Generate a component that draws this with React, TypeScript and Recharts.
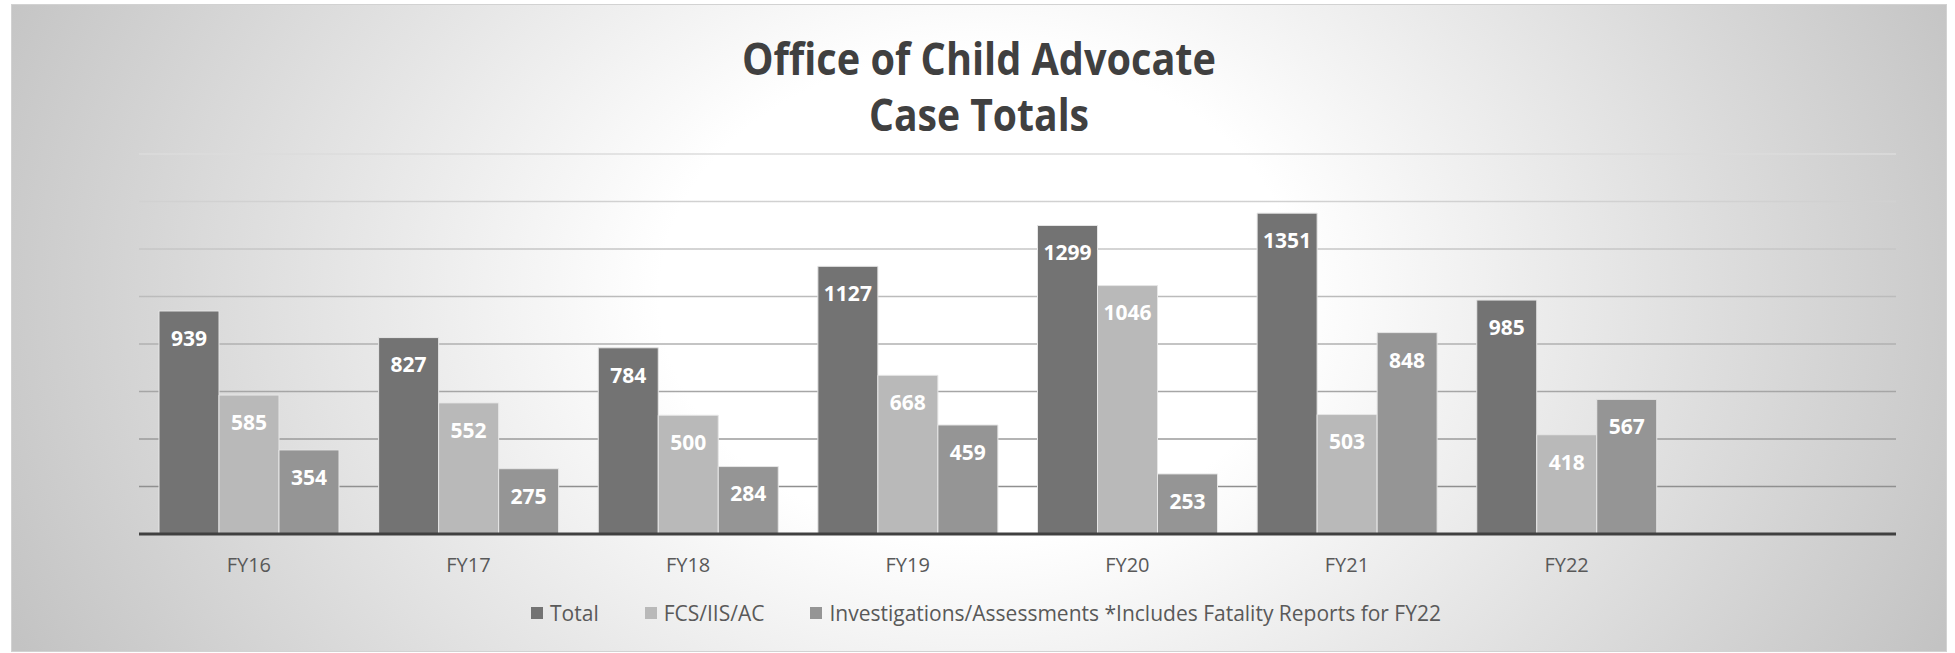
import React from 'react';
import { BarChart, Bar, XAxis, YAxis, CartesianGrid, Legend, LabelList } from 'recharts';

const categories = ['FY16', 'FY17', 'FY18', 'FY19', 'FY20', 'FY21', 'FY22', ''];
const totalValues = [939, 827, 784, 1127, 1299, 1351, 985, null];
const fcsValues = [585, 552, 500, 668, 1046, 503, 418, null];
const invValues = [354, 275, 284, 459, 253, 848, 567, null];
const yTicks = [0, 200, 400, 600, 800, 1000, 1200, 1400, 1600];

const seriesKeys = ['total', 'fcs', 'inv'];
const seriesNames = {
  total: 'Total',
  fcs: 'FCS/IIS/AC',
  inv: 'Investigations/Assessments *Includes Fatality Reports for FY22',
};
const colors = { total: '#737373', fcs: '#b9b9b9', inv: '#959595' };

const data = categories.map((c, i) => ({
  name: c,
  total: totalValues[i],
  fcs: fcsValues[i],
  inv: invValues[i],
}));

const W = 1936;
const H = 648;
const FONT = "'Open Sans', 'DejaVu Sans', sans-serif";

const renderLegend = (props: any) => {
  const payload = [...(props.payload || [])].sort(
    (a: any, b: any) => seriesKeys.indexOf(a.dataKey) - seriesKeys.indexOf(b.dataKey)
  );
  return (
    <div
      style={{
        display: 'flex',
        justifyContent: 'center',
        alignItems: 'center',
        height: 34,
        fontFamily: FONT,
        fontSize: 21,
        color: '#595959',
        paddingLeft: 14,
        boxSizing: 'border-box',
      }}
    >
      {payload.map((p: any, i: number) => (
        <div
          key={i}
          style={{ display: 'flex', alignItems: 'center', marginRight: i < payload.length - 1 ? 46 : 0 }}
        >
          <span
            style={{ display: 'inline-block', width: 12, height: 12, background: p.color, marginRight: 7 }}
          />
          <span>{p.value}</span>
        </div>
      ))}
    </div>
  );
};

const labelProps = {
  position: 'insideTop' as const,
  offset: 20,
  fill: '#ffffff',
  fontSize: 21,
  fontWeight: 700,
  fontFamily: FONT,
};

export default function App() {
  return (
    <div
      style={{
        position: 'absolute',
        left: 11,
        top: 4,
        width: W,
        height: H,
        background:
          'radial-gradient(ellipse 55% 125% at 50% 45%, #ffffff 30%, #c3c3c3 100%)',
        boxShadow: 'inset 0 0 0 1px #d2d2d2',
      }}
    >
      <svg
        width={W}
        height={140}
        style={{ position: 'absolute', left: 0, top: 0 }}
      >
        <text
          x={W / 2}
          y={71}
          textAnchor="middle"
          fontFamily={FONT}
          fontWeight={700}
          fontSize={44}
          fill="#404040"
          textLength={474}
          lengthAdjust="spacingAndGlyphs"
        >
          Office of Child Advocate
        </text>
        <text
          x={W / 2}
          y={127}
          textAnchor="middle"
          fontFamily={FONT}
          fontWeight={700}
          fontSize={44}
          fill="#404040"
          textLength={220}
          lengthAdjust="spacingAndGlyphs"
        >
          Case Totals
        </text>
      </svg>
      <div style={{ position: 'absolute', left: 0, top: 0 }}>
        <BarChart
          width={W}
          height={H}
          data={data}
          margin={{ top: 150, right: 51, bottom: 78, left: 128 }}
          barGap={0}
          barCategoryGap={20}
        >
          <defs>
            <linearGradient id="gridGrad" gradientUnits="userSpaceOnUse" x1="0" y1="150" x2="0" y2="530">
              <stop offset="0%" stopColor="#dcdcdc" />
              <stop offset="100%" stopColor="#858585" />
            </linearGradient>
          </defs>
          <CartesianGrid vertical={false} stroke="url(#gridGrad)" strokeWidth={1.5} />
          <XAxis
            dataKey="name"
            height={40}
            tickLine={false}
            tickSize={0}
            tickMargin={24}
            axisLine={{ stroke: '#404040', strokeWidth: 3 }}
            tick={{ fill: '#595959', fontSize: 20, fontFamily: FONT }}
            interval={0}
          />
          <YAxis hide domain={[0, 1600]} ticks={yTicks} />
          <Legend
            layout="horizontal"
            verticalAlign="middle"
            align="center"
            content={renderLegend}
            wrapperStyle={{ top: 592, left: 0, width: W, height: 34 }}
          />
          <Bar dataKey="total" name={seriesNames.total} fill={colors.total} stroke="#e6e6e6" strokeWidth={1} isAnimationActive={false}>
            <LabelList dataKey="total" {...labelProps} />
          </Bar>
          <Bar dataKey="fcs" name={seriesNames.fcs} fill={colors.fcs} stroke="#e6e6e6" strokeWidth={1} isAnimationActive={false}>
            <LabelList dataKey="fcs" {...labelProps} />
          </Bar>
          <Bar dataKey="inv" name={seriesNames.inv} fill={colors.inv} stroke="#e6e6e6" strokeWidth={1} isAnimationActive={false}>
            <LabelList dataKey="inv" {...labelProps} />
          </Bar>
        </BarChart>
      </div>
    </div>
  );
}
